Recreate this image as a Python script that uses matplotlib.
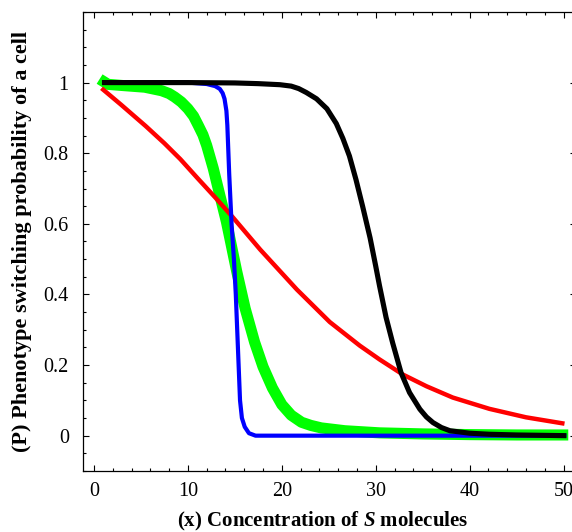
import numpy as np
import matplotlib
matplotlib.use("Agg")
import matplotlib.pyplot as plt
from matplotlib.ticker import MultipleLocator, FuncFormatter

plt.rcParams['font.family'] = ['Liberation Serif', 'DejaVu Serif']
plt.rcParams['mathtext.fontset'] = 'custom'
plt.rcParams['mathtext.it'] = 'Liberation Serif:italic:bold'
plt.rcParams['mathtext.rm'] = 'Liberation Serif:bold'

# curves
green_x = [0.6, 1.5, 2.9, 5.4, 7.2, 8.0, 8.6, 9.3, 10.0, 10.6, 11.1, 11.6, 12.0, 12.7,
           13.4, 14.1, 14.5, 15.2, 16.1, 17.1, 18.0, 19.0, 20.0, 21.0, 22.1, 23.1, 24.2,
           26.7, 30.4, 35.0, 40.0, 45.0, 50.5]
green_y = [1.01, 0.995, 0.992, 0.987, 0.977, 0.969, 0.959, 0.945, 0.926, 0.905, 0.879,
           0.852, 0.822, 0.757, 0.681, 0.606, 0.555, 0.465, 0.36, 0.265, 0.195, 0.135,
           0.088, 0.058, 0.038, 0.029, 0.022, 0.014, 0.008, 0.005, 0.003, 0.002, 0.002]

red_x = [0.8, 2.9, 5.5, 7.5, 9.2, 11.0, 12.9, 14.8, 17.7, 21.6, 25.1, 28.3, 30.4, 32.9,
         35.4, 38.2, 42.1, 46.0, 50.1]
red_y = [0.984, 0.937, 0.877, 0.828, 0.783, 0.730, 0.675, 0.618, 0.527, 0.414, 0.322,
         0.255, 0.216, 0.173, 0.140, 0.108, 0.076, 0.052, 0.034]

blue_x = [0.85, 10.0, 12.0, 12.9, 13.4, 13.7, 13.9, 14.1, 14.2, 14.4, 14.65, 14.9, 15.1,
          15.25, 15.4, 15.55, 15.75, 16.05, 16.5, 17.2, 30.0, 50.3]
blue_y = [1.0, 1.0, 0.996, 0.99, 0.982, 0.97, 0.954, 0.92, 0.879, 0.74, 0.60, 0.50, 0.40,
          0.30, 0.20, 0.10, 0.05, 0.025, 0.007, 0.0, 0.0, 0.0]

black_x = [0.85, 10.0, 15.0, 17.5, 19.8, 21.0, 21.8, 22.6, 23.7, 24.8, 25.8, 26.5, 27.2,
           27.9, 28.6, 29.4, 30.0, 30.4, 31.1, 31.8, 32.7, 33.6, 34.7, 35.4, 36.1, 37.0,
           37.9, 40.0, 42.1, 45.0, 50.3]
black_y = [1.0, 1.0, 0.999, 0.997, 0.994, 0.990, 0.983, 0.972, 0.954, 0.926, 0.884, 0.842,
           0.792, 0.725, 0.650, 0.560, 0.480, 0.425, 0.335, 0.263, 0.178, 0.122, 0.075,
           0.053, 0.037, 0.023, 0.014, 0.007, 0.004, 0.002, 0.0]

fig = plt.figure(figsize=(5.72, 5.32), dpi=100)
ax = fig.add_axes([0.1446, 0.1147, 0.862, 0.8628])

kw = dict(solid_capstyle='butt', solid_joinstyle='round')
ax.plot(green_x, green_y, color='#00ff00', lw=8, **kw)
ax.plot(red_x, red_y, color='#ff0000', lw=3.2, **kw)
ax.plot(blue_x, blue_y, color='#0000ff', lw=3.0, **kw)
ax.plot(black_x, black_y, color='black', lw=3.7, **kw)

ax.set_xlim(-1.2, 51.3)
ax.set_ylim(-0.1, 1.2)
ax.set_xticks([0, 10, 20, 30, 40, 50])
ax.set_yticks([0, 0.2, 0.4, 0.6, 0.8, 1.0])
ax.xaxis.set_minor_locator(MultipleLocator(2))
ax.yaxis.set_minor_locator(MultipleLocator(0.05))
ax.yaxis.set_major_formatter(FuncFormatter(lambda v, p: f"{v:g}"))
ax.tick_params(which='both', direction='in', top=True, right=True, width=0.8)
ax.tick_params(which='major', length=4, labelsize=14.5, pad=8)
ax.tick_params(axis='y', which='major', pad=10)
ax.tick_params(which='minor', length=2.5)
for s in ax.spines.values():
    s.set_linewidth(0.9)

ax.set_xlabel(r'(x) Concentration of $S$ molecules', fontsize=15, fontweight='bold')
ax.xaxis.set_label_coords(0.486, -0.085)
ax.set_ylabel('(P) Phenotype switching probability of a cell', fontsize=16,
              fontweight='bold', labelpad=8)

fig.savefig('out.png', dpi=100)
